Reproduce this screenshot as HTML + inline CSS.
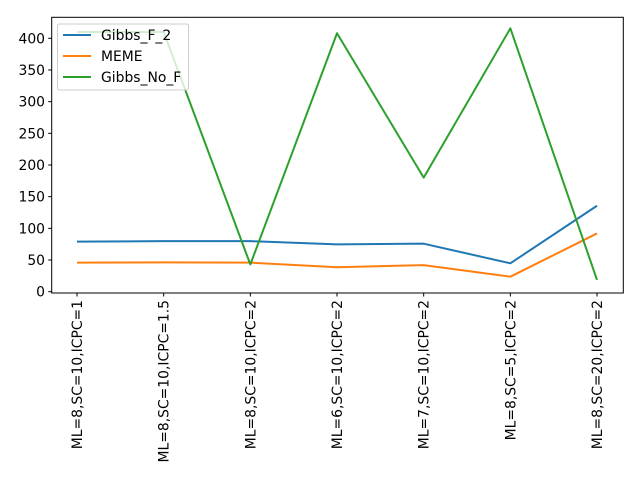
<!DOCTYPE html>
<html><head><meta charset="utf-8"><style>
body{margin:0;background:#fff;}
svg{display:block;font-family:"DejaVu Sans","Liberation Sans",sans-serif;}
</style></head><body>
<svg id="chart" width="640" height="480">
<rect x="0" y="0" width="640" height="480" fill="#fff"></rect>
<g id="series"></g>
<g id="xaxis"></g>
<g id="yaxis"></g>
<rect x="51.7" y="17.3" width="571.6" height="275.7" fill="none" stroke="#000" stroke-width="1"></rect>
<g>
<rect x="57.5" y="24" width="131" height="66" rx="2" fill="#fff" fill-opacity="0.8" stroke="#ccc"></rect>
<g><line x1="63" y1="35" x2="91" y2="35" stroke="#1f77b4" stroke-width="2"></line><text x="101" y="39.8" font-size="13.9" fill="#000">Gibbs_F_2</text></g>
<g><line x1="63" y1="56" x2="91" y2="56" stroke="#ff7f0e" stroke-width="2"></line><text x="101" y="60.8" font-size="13.9" fill="#000">MEME</text></g>
<g><line x1="63" y1="77" x2="91" y2="77" stroke="#2ca02c" stroke-width="2"></line><text x="101" y="81.8" font-size="13.9" fill="#000">Gibbs_No_F</text></g>
</g>
</svg>
<script>
const categories=["ML=8,SC=10,ICPC=1","ML=8,SC=10,ICPC=1.5","ML=8,SC=10,ICPC=2","ML=6,SC=10,ICPC=2","ML=7,SC=10,ICPC=2","ML=8,SC=5,ICPC=2","ML=8,SC=20,ICPC=2"];
const gibbsF2=[79,79.8,79.8,74.8,75.8,44.8,135.7];
const meme=[45.8,46.3,45.8,38.5,42,23.7,92];
const gibbsNoF=[410,410,43,408,180,415.7,18.5];
const yTicks=[0,50,100,150,200,250,300,350,400];
const NS="http://www.w3.org/2000/svg";
function xs(i){return 77+i*86.67;}
function ys(v){return 291.7-v*0.6335;}
const sg=document.getElementById('series'),xg=document.getElementById('xaxis'),yg=document.getElementById('yaxis');
function mk(t,a,p){const e=document.createElementNS(NS,t);for(const k in a)e.setAttribute(k,a[k]);p.appendChild(e);return e;}
[[gibbsF2,"#1f77b4","line-gibbs-f-2"],[meme,"#ff7f0e","line-meme"],[gibbsNoF,"#2ca02c","line-gibbs-no-f"]].forEach(s=>{
 const p=mk('polyline',{points:s[0].map((v,i)=>xs(i)+","+ys(v)).join(" "),fill:"none",stroke:s[1],"stroke-width":2,"stroke-linejoin":"round"},sg);
 
 
});
categories.forEach((c,i)=>{
 const x=xs(i);
 const t=mk('line',{x1:x,y1:293,x2:x,y2:296.5,stroke:"#000"},xg);
 
 
 const l=mk('text',{x:0,y:0,"font-size":13.9,"text-anchor":"end",transform:`translate(${x+5},300) rotate(-90)`},xg);
 l.textContent=c;
 
 
});
yTicks.forEach(v=>{
 const y=ys(v);
 const t=mk('line',{x1:48.2,y1:y,x2:51.7,y2:y,stroke:"#000"},yg);
 
 
 const l=mk('text',{x:45,y:y+5,"font-size":13.9,"text-anchor":"end"},yg);
 l.textContent=v;
 
 
});
</script>
</body></html>
